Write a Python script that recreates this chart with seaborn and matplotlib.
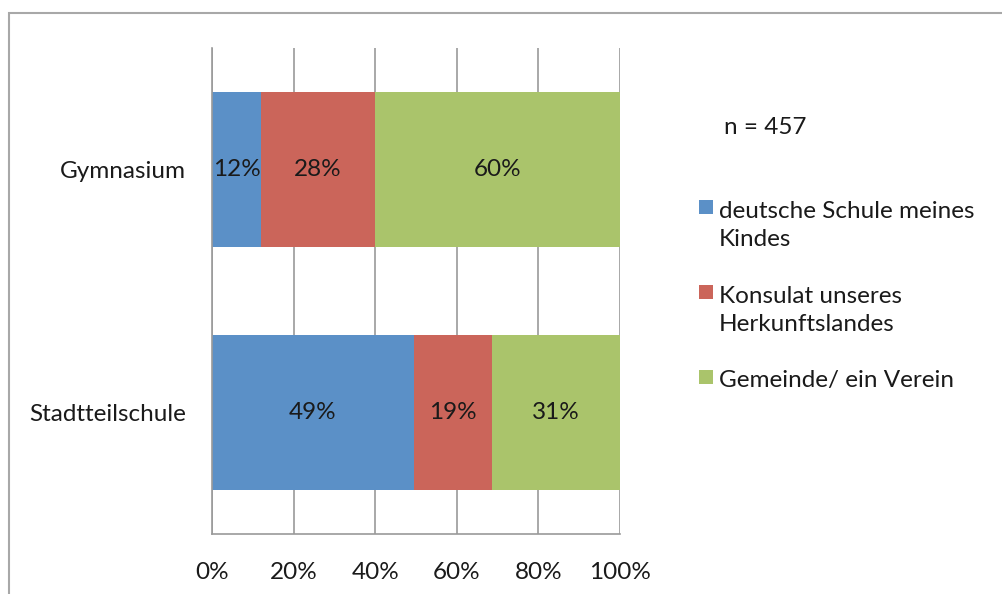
import numpy as np
import pandas as pd
import matplotlib
matplotlib.use("Agg")
import matplotlib.pyplot as plt
from matplotlib.patches import Rectangle
import seaborn as sns

categories = ["Gymnasium", "Stadtteilschule"]
series_names = ["deutsche Schule meines\nKindes", "Konsulat unseres\nHerkunftslandes", "Gemeinde/ ein Verein"]
schule = [12, 49]
konsulat = [28, 19]
gemeinde = [60, 31]
colors = ["#5B90C7", "#CB655A", "#AAC46B"]
xticks = [0, 20, 40, 60, 80, 100]
xtick_labels = ["0%", "20%", "40%", "60%", "80%", "100%"]
note = "n = 457"

sns.set_theme(style="white")
plt.rcParams["font.family"] = ["Lato", "DejaVu Sans"]
FS = 17.5
TXT = "#1a1a1a"

raw = np.array([schule, konsulat, gemeinde], dtype=float)
shares = raw / raw.sum(axis=0) * 100
cum = np.cumsum(shares, axis=0)

W, H = 1003, 594
fig = plt.figure(figsize=(W / 100, H / 100), dpi=100)
ax = fig.add_axes([212 / W, 1 - 534 / H, (620 - 212) / W, (534 - 48) / H])

# draw from back (full cumulative) to front
for i in [2, 1, 0]:
    df = pd.DataFrame({"cat": categories, "val": cum[i]})
    sns.barplot(data=df, y="cat", x="val", color=colors[i], saturation=1,
                width=0.64, ax=ax, orient="h")

for p in ax.patches:
    p.set_edgecolor("none")

for j in range(len(categories)):
    for i in range(3):
        left = cum[i, j] - shares[i, j]
        ax.text(left + shares[i, j] / 2, j, f"{int(raw[i, j])}%",
                ha="center", va="center", fontsize=FS, color=TXT)

ax.set_xlim(0, 100)
ax.set_ylim(1.5, -0.5)
ax.set_xticks(xticks)
ax.set_xticklabels(xtick_labels, fontsize=FS, color=TXT)
ax.tick_params(axis="y", labelsize=FS, labelcolor=TXT, length=0, pad=19)
ax.tick_params(axis="x", length=0, pad=20)
ax.set_xlabel("")
ax.set_ylabel("")
ax.grid(axis="x", color="#9a9a9a", linewidth=1.2)
ax.set_axisbelow(True)
for s in ["top", "right"]:
    ax.spines[s].set_visible(False)
for s in ["left", "bottom"]:
    ax.spines[s].set_color("#9a9a9a")
    ax.spines[s].set_linewidth(1.2)

# legend drawn manually to keep handle on the first text line
LINE = 29
first_baseline = [217, 302, 387]
for name, c, b in zip(series_names, colors, first_baseline):
    fig.patches.append(Rectangle((699 / W, 1 - (b - 3) / H), 14 / W, 14 / H,
                                 transform=fig.transFigure, facecolor=c,
                                 edgecolor="none"))
    last_b = b + LINE * name.count("\n")
    fig.text(719 / W, 1 - last_b / H, name, fontsize=FS, color=TXT,
             va="baseline", ha="left", linespacing=1.42)

fig.text(724 / W, 1 - 127 / H, note, fontsize=FS, color=TXT, va="center")

fig.patches.append(Rectangle((9 / W, -0.1), 1.2, 1 - 13 / H + 0.1,
                             transform=fig.transFigure, fill=False,
                             edgecolor="#a8a8a8", linewidth=1.5))

fig.savefig("out.png", dpi=100)
